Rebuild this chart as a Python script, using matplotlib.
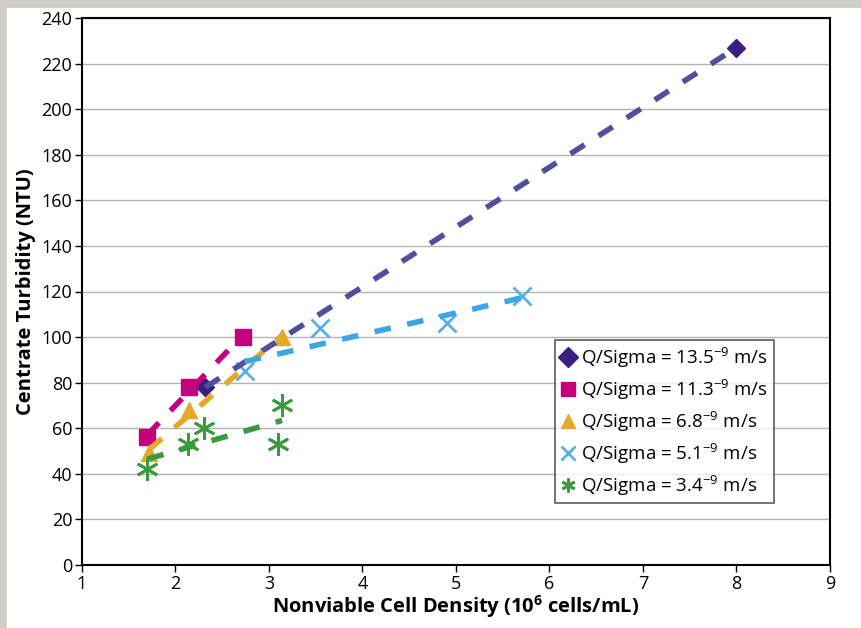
import numpy as np
import matplotlib
matplotlib.use("Agg")
import matplotlib.pyplot as plt

plt.rcParams['font.family'] = ['Open Sans', 'DejaVu Sans']
plt.rcParams['mathtext.default'] = 'regular'

# cell density (10^6 cells/mL) and turbidity (NTU) per Q/Sigma setting
x_135 = [2.32, 8.0]
y_135 = [78, 227]
x_113 = [1.70, 2.14, 2.72]
y_113 = [56, 78, 100]
x_68 = [1.72, 2.14, 3.14]
y_68 = [49, 68, 100]
x_51 = [2.74, 3.55, 4.90, 5.71]
y_51 = [85, 104, 106, 118]
x_34 = [1.70, 2.13, 2.30, 3.10, 3.14]
y_34 = [42, 53, 60, 53, 70]

labels = ['Q/Sigma = 13.5$^{\u22129}$ m/s', 'Q/Sigma = 11.3$^{\u22129}$ m/s',
          'Q/Sigma = 6.8$^{\u22129}$ m/s', 'Q/Sigma = 5.1$^{\u22129}$ m/s',
          'Q/Sigma = 3.4$^{\u22129}$ m/s']

series = [
    (x_135, y_135, 'D', '#3b1e7d', '#4f4f9c', 9, 1),
    (x_113, y_113, 's', '#c4007c', '#c4007c', 11, 1),
    (x_68, y_68, '^', '#e2a92d', '#e2a92d', 12, 1),
    (x_51, y_51, 'x', '#5ab0e0', '#3ea5e4', 13, 2),
    (x_34, y_34, (6, 2, 0), '#3a9b3e', '#3a9b3e', 16, 2),
]

fig = plt.figure(figsize=(8.62, 6.28), dpi=100, facecolor='#d0ccc8')
bg = plt.Rectangle((7 / 862, 0), 1, 1 - 8 / 628, transform=fig.transFigure,
                   color='white', zorder=-10)
fig.patches.append(bg)
ax = fig.add_axes([82 / 862, 1 - 565 / 628, 748 / 862, 547 / 628])

handles = []
for xs, ys, mk, mc, lc, ms, mew in series:
    h, = ax.plot(xs, ys, linestyle='none', marker=mk, color=mc, markersize=ms,
                 markeredgewidth=mew, zorder=3)
    handles.append(h)
    # linear trendline over the data range
    k, b = np.polyfit(xs, ys, 1)
    xx = np.array([min(xs), max(xs)])
    ax.plot(xx, k * xx + b, color=lc, linewidth=4, dashes=(3, 3),
            solid_capstyle='butt', dash_capstyle='butt', zorder=4)

ax.set_xlim(1, 9)
ax.set_ylim(0, 240)
ax.set_xticks(range(1, 10))
ax.set_yticks(range(0, 241, 20))
ax.grid(axis='y', color='#b4b4b4', linewidth=1)
ax.set_axisbelow(True)
for s in ax.spines.values():
    s.set_linewidth(1.5)
    s.set_color('black')
ax.tick_params(labelsize=13, length=5, width=1, pad=2)

ax.set_xlabel('Nonviable Cell Density (10$^{6}$ cells/mL)', fontsize=14.5,
              fontweight='bold', labelpad=0)
ax.set_ylabel('Centrate Turbidity (NTU)', fontsize=14.5, fontweight='bold', labelpad=4)

leg = ax.legend(handles, labels, loc='upper left', bbox_to_anchor=(0.632, 0.411),
                fontsize=13.5, frameon=True, fancybox=False, handlelength=0.8,
                handletextpad=0.3, borderpad=0.3, labelspacing=0.42,
                borderaxespad=0)
leg.get_frame().set_edgecolor('#333333')
leg.get_frame().set_linewidth(1.2)
for h in leg.legend_handles:
    h.set_markersize(10)

fig.savefig('out.png', dpi=100, facecolor=fig.get_facecolor())
